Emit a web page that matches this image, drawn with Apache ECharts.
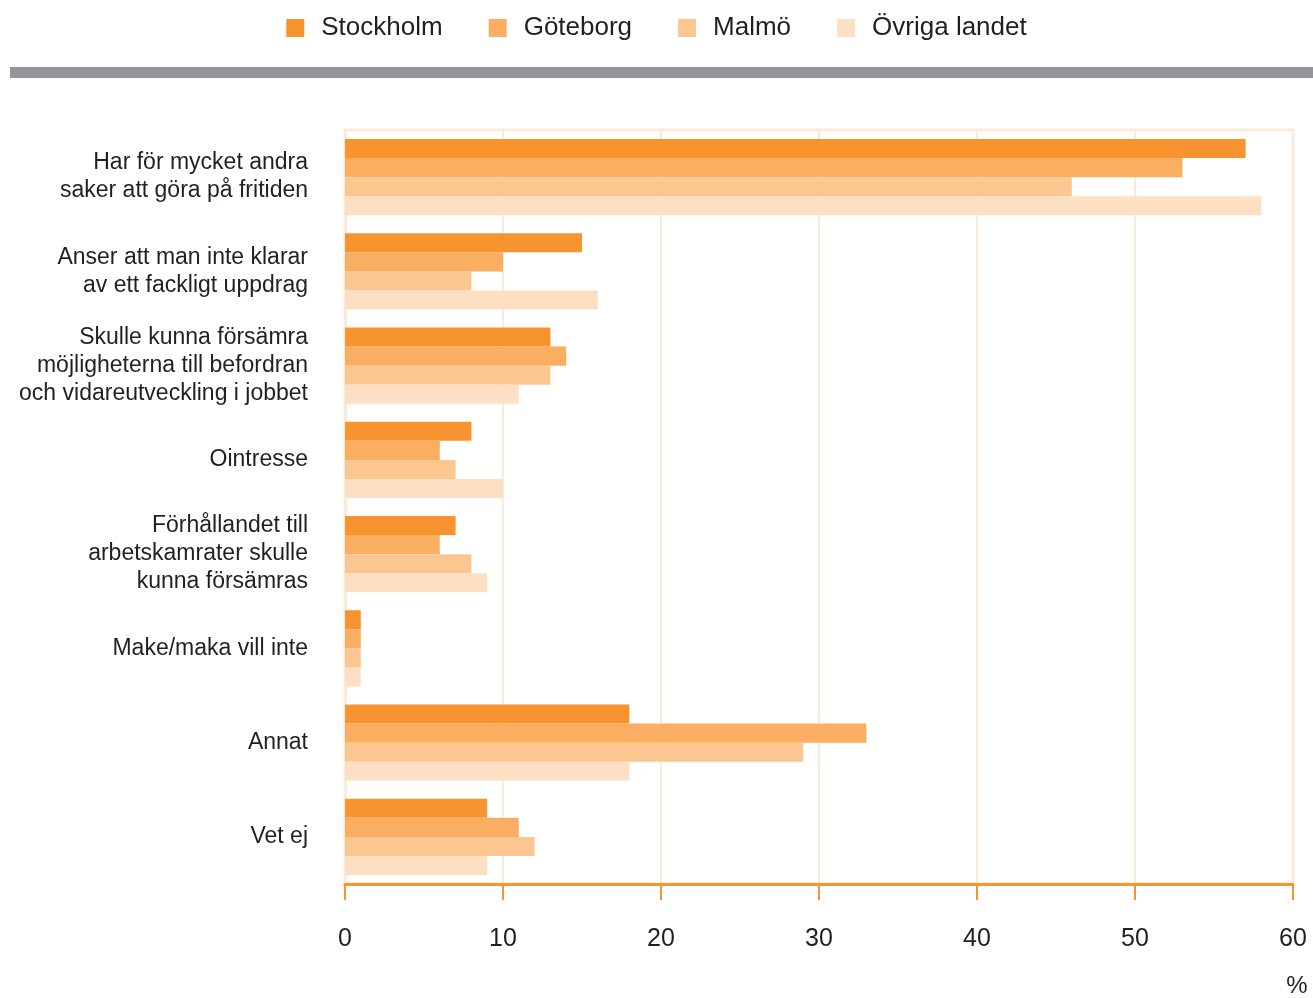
<!DOCTYPE html>
<html><head><meta charset="utf-8">
<script src="https://cdn.jsdelivr.net/npm/echarts@6/dist/echarts.min.js"></script>
<style>html,body{margin:0;padding:0;background:#fff}#c{width:1313px;height:998px}</style>
</head><body><div id="c"></div>
<script>
const categories = [
  "Har för mycket andra\nsaker att göra på fritiden",
  "Anser att man inte klarar\nav ett fackligt uppdrag",
  "Skulle kunna försämra\nmöjligheterna till befordran\noch vidareutveckling i jobbet",
  "Ointresse",
  "Förhållandet till\narbetskamrater skulle\nkunna försämras",
  "Make/maka vill inte",
  "Annat",
  "Vet ej"
];
const seriesNames = ["Stockholm", "Göteborg", "Malmö", "Övriga landet"];
const stockholm = [57, 15, 13, 8, 7, 1, 18, 9];
const goteborg  = [53, 10, 14, 6, 6, 1, 33, 11];
const malmo     = [46, 8, 13, 7, 8, 1, 29, 12];
const ovriga    = [58, 16, 11, 10, 9, 1, 18, 9];
const xTicks = [0, 10, 20, 30, 40, 50, 60];

const colors = ["#f7942f", "#f9ae62", "#fcc690", "#fde0c3"];
const values = [stockholm, goteborg, malmo, ovriga];
const FONT = "Liberation Sans";
const chart = echarts.init(document.getElementById('c'));
chart.setOption({
  animation: false,
  textStyle: {fontFamily: FONT},
  legend: {
    top: 10, left: 'center', itemWidth: 18, itemHeight: 18, itemGap: 46,
    icon: 'rect',
    textStyle: {fontSize: 26, color: '#231f20', fontFamily: FONT, padding: [0,0,0,12]},
    data: seriesNames
  },
  graphic: [{type: 'rect', shape: {x: 10, y: 67, width: 1303, height: 11}, style: {fill: '#939598'}}],
  grid: {left: 345, right: 20, top: 130, bottom: 114, show: true, borderColor: '#fdebd9', borderWidth: 3, containLabel: false},
  xAxis: {
    type: 'value', min: 0, max: 60, interval: 10, position: 'bottom',
    axisLine: {show: true, lineStyle: {color: '#f7942f', width: 3}},
    axisTick: {show: true, length: 16, lineStyle: {color: '#f7942f', width: 2}},
    axisLabel: {fontSize: 25, color: '#231f20', margin: 43, fontFamily: FONT,
      formatter: v => xTicks.includes(v) ? String(v) : ''},
    splitLine: {show: true, lineStyle: {color: '#fdebd9', width: 2}},
    name: '%', nameLocation: 'end', nameGap: 0,
    nameTextStyle: {fontSize: 24, color: '#231f20', align: 'center', verticalAlign: 'top', padding: [90, 0, 0, 8]}
  },
  yAxis: {
    type: 'category', inverse: true, data: categories,
    axisLine: {show: true, lineStyle: {color: '#fdebd9', width: 3}},
    axisTick: {show: false},
    axisLabel: {fontSize: 23, color: '#231f20', margin: 37, lineHeight: 28, align: 'right', fontFamily: FONT}
  },
  series: seriesNames.map((n, i) => ({
    name: n, type: 'bar', data: values[i],
    itemStyle: {color: colors[i]},
    barGap: '0%', barCategoryGap: '19%'
  }))
});
</script></body></html>
